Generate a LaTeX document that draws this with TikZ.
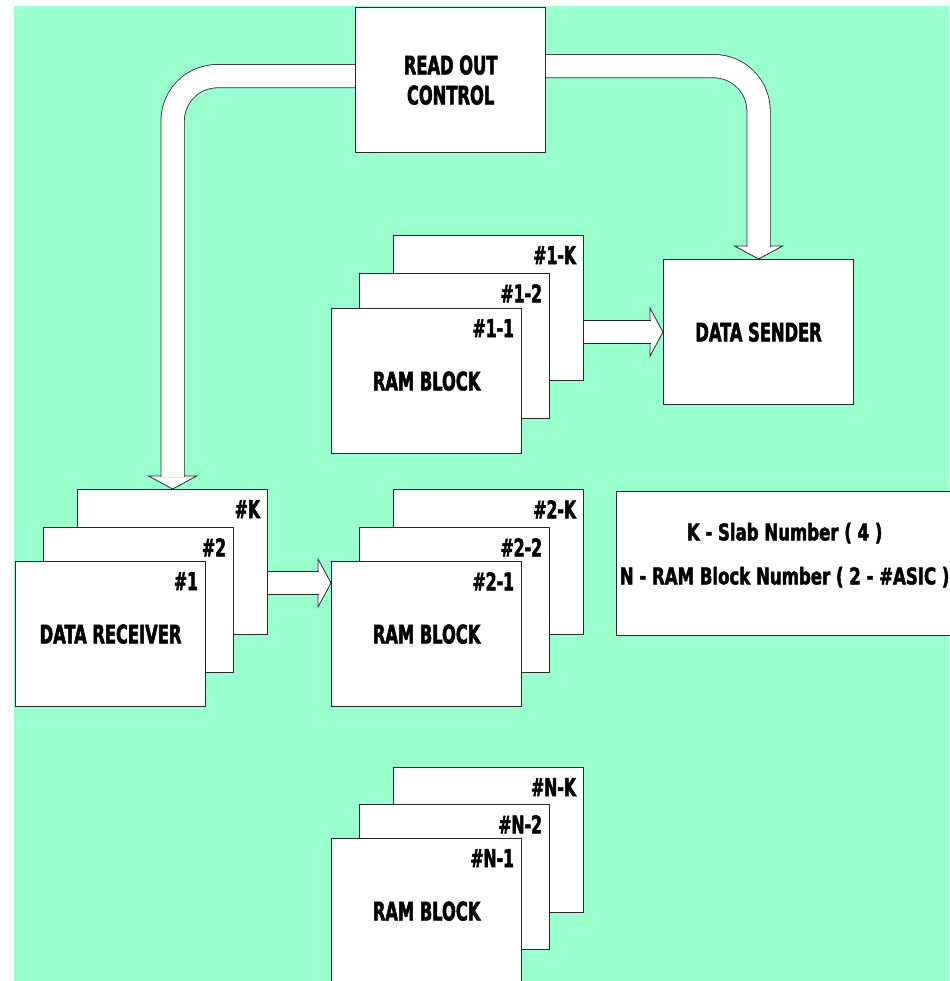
\documentclass[tikz,border=0pt]{standalone}
\usepackage{fontspec}
\usepackage{tikz}
\newfontfamily\blockfont{DejaVu Sans Condensed Bold}[FakeStretch=0.71, FakeBold=2]
\newfontfamily\legendfont{DejaVu Sans Condensed Bold}[FakeStretch=0.80, FakeBold=2]
\definecolor{mintbg}{RGB}{153, 255, 204}
\definecolor{edgegray}{RGB}{40, 40, 40}
\usetikzlibrary{positioning, backgrounds}
\tikzset{bighead/.pic={\draw[fill=white, draw=edgegray, line width=0.8pt] (0,0) -- (-13,-24) -- (-13,24) -- cycle;}}

\begin{document}
\begin{tikzpicture}[
    x=1pt, y=-1pt,
    block/.style={rectangle, draw=edgegray, fill=white, line width=1.2pt,
                  minimum width=190pt, minimum height=145pt, inner sep=0pt,
                  anchor=north west, align=center,
                  font=\blockfont\fontsize{25.5}{30}\selectfont},
    tag/.style={inner sep=0pt, font=\blockfont\fontsize{24.5}{24.5}\selectfont},
    legend/.style={rectangle, draw=edgegray, fill=white, line width=1.2pt,
                   minimum width=336pt, minimum height=144pt, inner sep=0pt,
                   anchor=north west, align=center, text depth=20pt,
                   font=\legendfont\fontsize{23}{44}\selectfont},
    shaft/.style={draw=edgegray, line width=0.8pt, double=white,
                  double distance=22.5pt, rounded corners=45pt}
]
    \useasboundingbox (0,0) rectangle (949,981);

    % Control and sender
    \node[block] (roc) at (355,7) {READ OUT\\CONTROL};
    \node[block] (ds) at (663,259) {DATA SENDER};

    % Receiver stack
    \node[block] (rxk) at (77,489) {};
    \node[block] (rx2) at ([shift={(-34,38)}]rxk.north west) {};
    \node[block] (rx1) at ([shift={(-28,34)}]rx2.north west) {DATA RECEIVER};
    \node[tag, below left=11pt and 8pt of rxk.north east] (tk) {\#K};
    \node[tag, below left=11pt and 8pt of rx2.north east] (t2) {\#2};
    \node[tag, below left=11pt and 8pt of rx1.north east] (t1) {\#1};

    % RAM block 1
    \node[block] (ram1k) at (393,235) {};
    \node[block] (ram12) at ([shift={(-34,38)}]ram1k.north west) {};
    \node[block] (ram11) at ([shift={(-28,35)}]ram12.north west) {RAM BLOCK};
    \node[tag, below left=11pt and 8pt of ram1k.north east] (t1k) {\#1-K};
    \node[tag, below left=11pt and 8pt of ram12.north east] (t12) {\#1-2};
    \node[tag, below left=11pt and 8pt of ram11.north east] (t11) {\#1-1};

    % RAM block 2
    \node[block] (ram2k) at (393,489) {};
    \node[block] (ram22) at ([shift={(-34,38)}]ram2k.north west) {};
    \node[block] (ram21) at ([shift={(-28,34)}]ram22.north west) {RAM BLOCK};
    \node[tag, below left=11pt and 8pt of ram2k.north east] (t2k) {\#2-K};
    \node[tag, below left=11pt and 8pt of ram22.north east] (t22) {\#2-2};
    \node[tag, below left=11pt and 8pt of ram21.north east] (t21) {\#2-1};

    % RAM block N
    \node[block] (ramnk) at (393,767) {};
    \node[block] (ramn2) at ([shift={(-34,37)}]ramnk.north west) {};
    \node[block] (ramn1) at ([shift={(-28,34)}]ramn2.north west) {RAM BLOCK};
    \node[tag, below left=11pt and 8pt of ramnk.north east] (tnk) {\#N-K};
    \node[tag, below left=11pt and 8pt of ramn2.north east] (tn2) {\#N-2};
    \node[tag, below left=11pt and 8pt of ramn1.north east] (tn1) {\#N-1};

    % Legend
    \node[legend] (key) at (616,491) {K - Slab Number ( 4 )\\N - RAM Block Number ( 2 - \#ASIC )};

    \coordinate (rxtip) at ([yshift=-22pt]ram21.north west);

    % Arrows
    \begin{scope}[on background layer]
        \fill[mintbg] (14,6) rectangle (949,981);
        \pic[rotate=-90] at (rxk.north) {bighead};
        \draw[shaft] ([yshift=4pt]roc.west) -| ([yshift=12pt]rxk.north);
        \pic[rotate=-90] at (ds.north) {bighead};
        \draw[shaft] ([yshift=14pt]roc.east) -| ([yshift=12pt]ds.north);
        \pic at (ds.west) {bighead};
        \draw[shaft, rounded corners=0pt] (ram1k.east |- ds.west) -- ([xshift=-12pt]ds.west);
        \pic at (rxtip) {bighead};
        \draw[shaft, rounded corners=0pt] (rxk.east |- rxtip) -- ([xshift=-12pt]rxtip);
    \end{scope}
\end{tikzpicture}
\end{document}
